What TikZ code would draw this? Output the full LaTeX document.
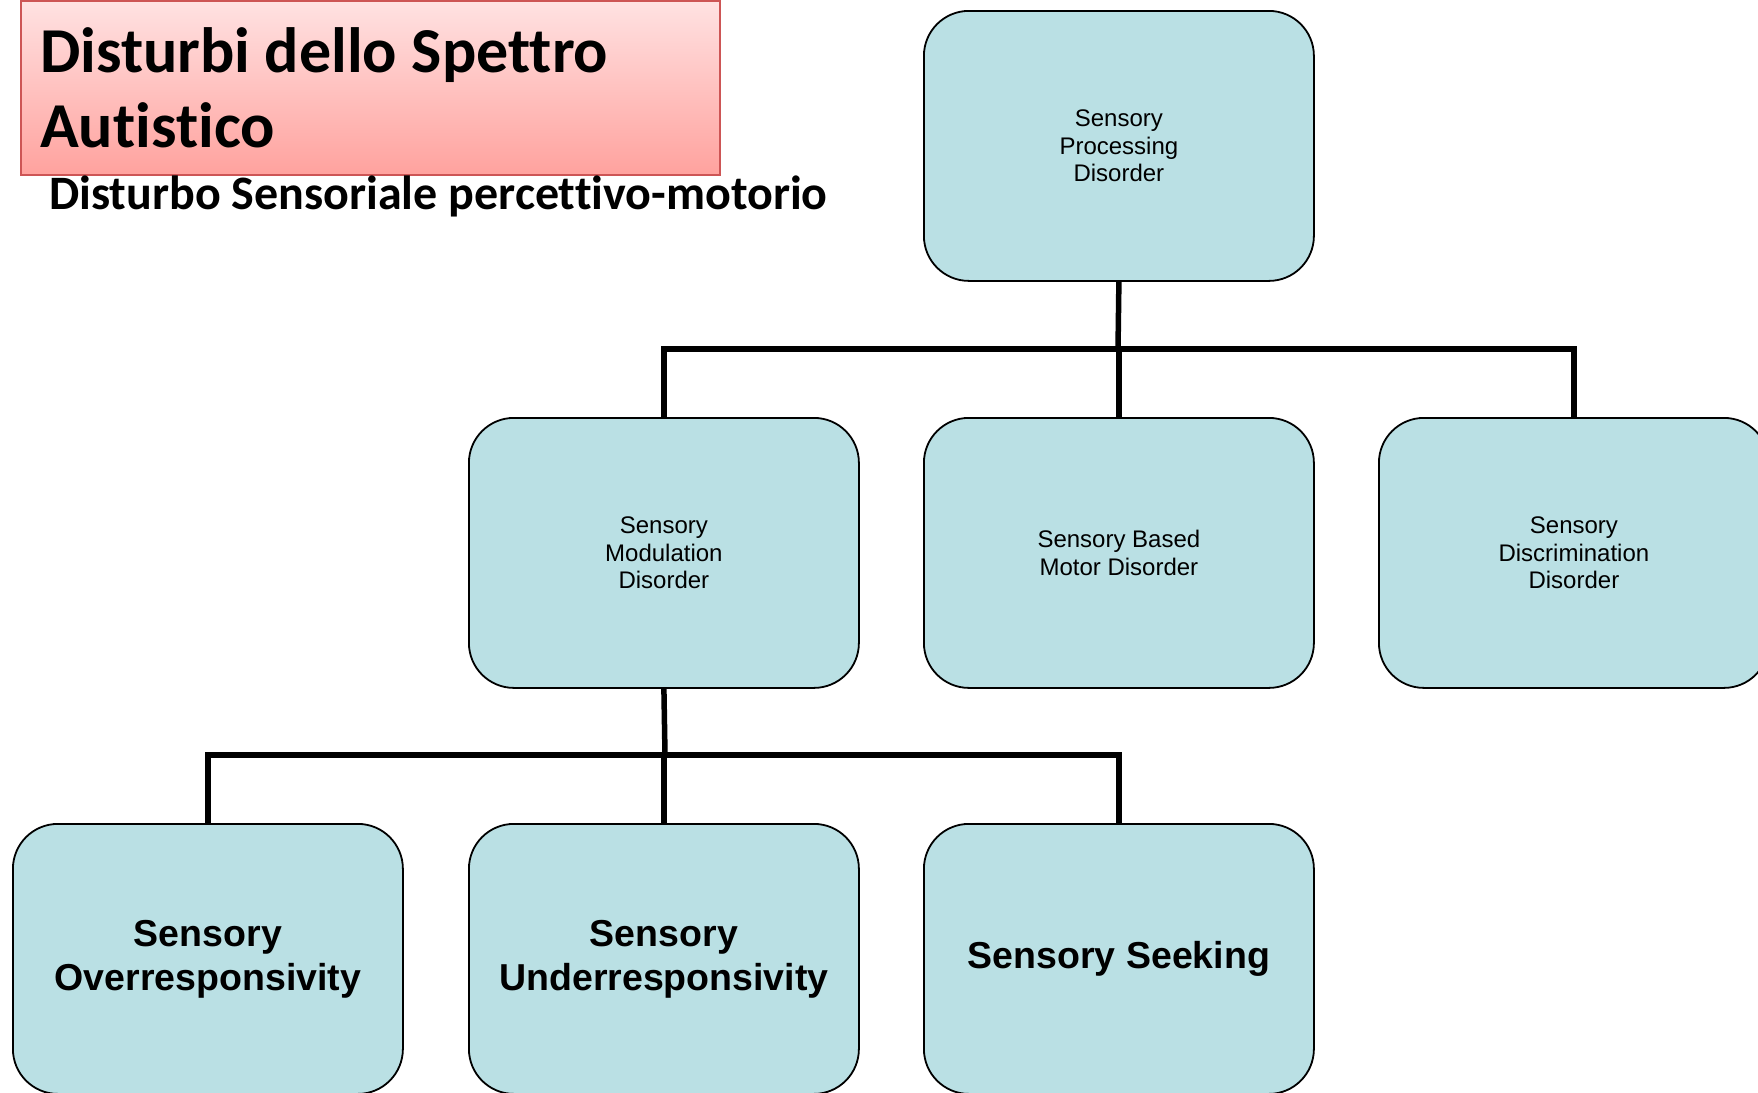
\documentclass[tikz,border=0pt]{standalone}
\usepackage{fontspec}
\setmainfont{Liberation Sans}
\newfontfamily\carl[Ligatures=NoCommon]{Carlito}
\definecolor{boxfill}{RGB}{186,224,228}
\definecolor{ttop}{RGB}{255,226,226}
\definecolor{tbot}{RGB}{255,162,158}
\definecolor{tborder}{RGB}{205,85,85}
\begin{document}
\begin{tikzpicture}[x=1pt,y=-1pt,
  sbox/.style={draw=black,line width=1.8pt,fill=boxfill,rounded corners=45pt,
    minimum width=390pt,minimum height=270pt,inner sep=0pt,align=center,anchor=north west},
  small/.style={font=\fontsize{24}{27.5}\selectfont},
  big/.style={font=\fontsize{37.5}{44}\selectfont\bfseries},
  conn/.style={line width=5.5pt,draw=black}]
\useasboundingbox (0,0) rectangle (1758,1092);
\fill[white] (0,0) rectangle (1758,1092);
% title
\node[draw=tborder,line width=1.5pt,top color=ttop,bottom color=tbot,minimum width=699pt,minimum height=174pt,inner sep=0pt,anchor=north west] (title) at (20,0) {};
\node[anchor=west,font=\carl\fontsize{64}{75}\selectfont\bfseries,align=left,inner sep=0pt] (ttext) at (40,88) {Disturbi dello Spettro\\Autistico};
\node[anchor=west,font=\carl\fontsize{48}{56}\selectfont\bfseries,inner sep=0pt] (sub) at (49,196) {Disturbo Sensoriale percettivo-motorio};
% boxes
\node[sbox,small] (spd) at (923,10) {Sensory\\Processing\\Disorder};
\node[sbox,small] (smd) at (468,417) {Sensory\\Modulation\\Disorder};
\node[sbox,small] (sbmd) at (923,417) {Sensory Based\\Motor Disorder};
\node[sbox,small] (sdd) at (1378,417) {Sensory\\Discrimination\\Disorder};
\node[sbox,big] (sor) at (12,823) {Sensory\\Overresponsivity};
\node[sbox,big] (sur) at (468,823) {Sensory\\Underresponsivity};
\node[sbox,big] (ss) at (923,823) {Sensory Seeking};
% connectors
\coordinate (j1) at (1118,349);
\coordinate (j2) at (665,755);
\draw[conn] (spd.south) -- (j1);
\draw[conn] (j1) -| (smd.north);
\draw[conn] (j1) -| (sbmd.north);
\draw[conn] (j1) -| (sdd.north);
\draw[conn] (smd.south) -- (j2);
\draw[conn] (j2) -| (sor.north);
\draw[conn] (j2) -| (sur.north);
\draw[conn] (j2) -| (ss.north);
\end{tikzpicture}
\end{document}
